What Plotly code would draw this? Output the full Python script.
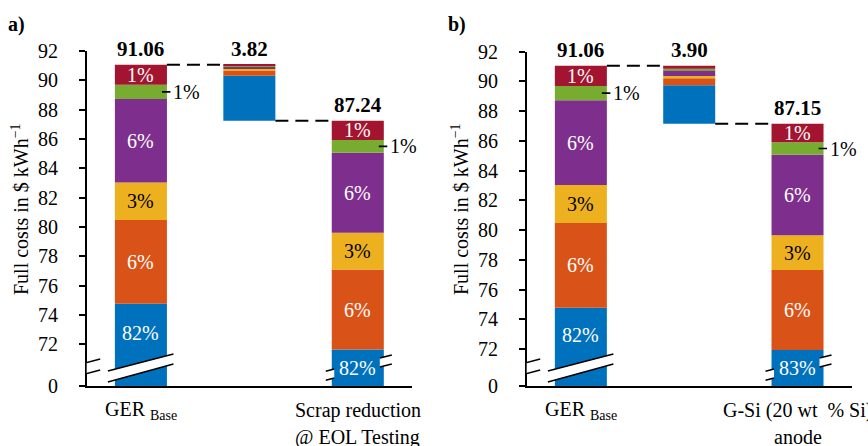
import plotly.graph_objects as go

# ---- data -----------------------------------------------------------------
# cost components (bottom to top) in $ per kWh
ger_base = [74.77, 5.70, 2.57, 5.69, 0.97, 1.36]
scrap_eol = [71.65, 5.45, 2.50, 5.46, 0.88, 1.30]
gsi_anode = [71.94, 5.38, 2.34, 5.40, 0.85, 1.24]
# cost reduction per component (floating middle bars)
delta_scrap = [3.07, 0.33, 0.14, 0.13, 0.09, 0.06]
delta_gsi = [2.59, 0.47, 0.15, 0.40, 0.10, 0.19]

tick_values = [72, 74, 76, 78, 80, 82, 84, 86, 88, 90, 92]
base_label = ["GER", "Base"]
scrap_label = ["Scrap reduction", "@ EOL Testing"]
gsi_label = ["G-Si (20 wt  % Si)", "anode"]
panel_tags = ["a)", "b)"]
y_title = "Full costs in $ kWh<sup>\u22121</sup>"

# ---- styling --------------------------------------------------------------
COLORS = ["#0072BD", "#D95319", "#EDB120", "#7E2F8E", "#77AC30", "#A2142F"]
TEXT_COLORS = ["white", "white", "black", "white", "white", "white"]
OUTSIDE = {4}           # thin segment labelled beside the bar
FONT = "Liberation Serif, Times New Roman, serif"
W, H = 868, 446
BAR_W = 0.48
BREAK_TOP = 70.0        # values below this are compressed into the axis break
YMAX = 92
FS = 20

panels = [
    dict(x="x", y="y", xa="xaxis", ya="yaxis", xpx=(86.7, 412.0), ypx=(51.0, 386.0),
         ymin=69.16, scen=scrap_eol, delta=delta_scrap, label=scrap_label,
         tag=panel_tags[0], tag_x=16, title_x=20),
    dict(x="x2", y="y2", xa="xaxis2", ya="yaxis2", xpx=(526.7, 851.7), ypx=(51.7, 386.0),
         ymin=69.51, scen=gsi_anode, delta=delta_gsi, label=gsi_label,
         tag=panel_tags[1], tag_x=457, title_x=460),
]


def disp(v, ymin):
    """Map a cost value onto the broken axis."""
    if v >= BREAK_TOP:
        return v
    return ymin + v * (BREAK_TOP - ymin) / BREAK_TOP


def cum(vals, start=0.0):
    out, s = [], start
    for v in vals:
        out.append(s)
        s += v
    return out


def tfont(color="black", size=FS):
    return dict(family=FONT, size=size, color=color)


def note(**kw):
    kw.setdefault("showarrow", False)
    kw.setdefault("xanchor", "center")
    kw.setdefault("yanchor", "middle")
    kw.setdefault("font", tfont())
    return kw


fig = go.Figure()
shapes, annotations = [], []

for p in panels:
    ymin = p["ymin"]
    ppx = (p["xpx"][1] - p["xpx"][0]) / 3.0
    ppy = (p["ypx"][1] - p["ypx"][0]) / (YMAX - ymin)
    dx = lambda px: px / ppx
    yb = lambda px: ymin + px / ppy   # pixels above the axis bottom -> axis units

    ger_tot = sum(ger_base)
    scen_tot = sum(p["scen"])
    delta_tot = sum(p["delta"])
    ger_b = cum(ger_base)
    scen_b = cum(p["scen"])
    delta_b = cum(p["delta"], scen_tot)

    for i, col in enumerate(COLORS):
        lows = [ger_b[i], delta_b[i], scen_b[i]]
        highs = [ger_b[i] + ger_base[i], delta_b[i] + p["delta"][i], scen_b[i] + p["scen"][i]]
        bases = [disp(v, ymin) for v in lows]
        tops = [disp(v, ymin) for v in highs]
        fig.add_trace(go.Bar(
            x=[0, 1, 2], y=[t - b for t, b in zip(tops, bases)], base=bases,
            width=BAR_W, marker=dict(color=col, line=dict(width=0)),
            xaxis=p["x"], yaxis=p["y"], showlegend=False, hoverinfo="skip"))

        # percentage labels on the two full bars
        for xi, vals, totals, lo, hi in ((0, ger_base, ger_tot, bases[0], tops[0]),
                                         (2, p["scen"], scen_tot, bases[2], tops[2])):
            txt = f"{round(100 * vals[i] / totals)}%"
            if i in OUTSIDE:
                ym = (lo + hi) / 2
                shapes.append(dict(type="line", xref=p["x"], yref=p["y"],
                                   x0=xi + BAR_W / 2 - dx(5), x1=xi + BAR_W / 2 + dx(3.5),
                                   y0=ym, y1=ym, line=dict(color="black", width=1.6),
                                   layer="above"))
                annotations.append(note(x=xi + BAR_W / 2 + dx(4), y=ym, xref=p["x"],
                                        yref=p["y"], text=txt, xanchor="left"))
                continue
            if i == 0 and xi == 0:
                # above the full-width break band
                lo = yb(23.5)
            annotations.append(note(x=xi, y=(lo + hi) / 2, xref=p["x"], yref=p["y"],
                                    text=txt, font=tfont(TEXT_COLORS[i])))

    # totals above the bars
    for xi, val, top in ((0, ger_tot, ger_tot), (1, delta_tot, scen_tot + delta_tot),
                         (2, scen_tot, scen_tot)):
        annotations.append(note(x=xi, y=top, xref=p["x"], yref=p["y"], yshift=16,
                                text=f"<b>{val:.2f}</b>", font=tfont(size=21)))

    # dashed connectors
    for x0, x1, yv in ((BAR_W / 2, 1 - BAR_W / 2, ger_tot),
                       (1 + BAR_W / 2, 2 - BAR_W / 2, scen_tot)):
        shapes.append(dict(type="line", xref=p["x"], yref=p["y"], x0=x0, x1=x1, y0=yv, y1=yv,
                           line=dict(color="black", width=2, dash="13px,7px"), layer="above"))

    def band(xl, xr, lo_l, lo_r, up_l, up_r):
        path = (f"M {xl},{yb(lo_l)} L {xr},{yb(lo_r)} L {xr},{yb(up_r)} "
                f"L {xl},{yb(up_l)} Z")
        shapes.append(dict(type="path", xref=p["x"], yref=p["y"], path=path,
                           fillcolor="white", line=dict(width=0), layer="above"))
        for a, b in ((lo_l, lo_r), (up_l, up_r)):
            shapes.append(dict(type="line", xref=p["x"], yref=p["y"], x0=xl, x1=xr,
                               y0=yb(a), y1=yb(b), line=dict(color="black", width=1.5),
                               layer="above"))

    # axis break on the y axis line
    band(-0.5 - dx(12.5), -0.5 + dx(13.5), 9, 16, 20, 27)
    # full break across the base bar
    band(-BAR_W / 2 - dx(7), BAR_W / 2 + dx(6.5), 4, 22, 15, 32)
    # edge notches on the scenario bar
    half = BAR_W / 2 * ppx
    low = lambda r: 7.3 + (r + half) * 0.245
    for r0, r1 in ((-half - 6, -half + 2.5), (half - 4, half + 8)):
        band(2 + dx(r0), 2 + dx(r1), low(r0), low(r1), low(r0) + 9, low(r1) + 9)

    # category labels under the axis
    ylab = 1 - 410 / H
    annotations.append(note(x=0, y=ylab, xref=p["x"], yref="paper",
                            text=f"{base_label[0]} <sub>{base_label[1]}</sub>"))
    annotations.append(note(x=2, y=ylab, xref=p["x"], yref="paper", text=p["label"][0]))
    annotations.append(note(x=2, y=1 - 437 / H, xref=p["x"], yref="paper",
                            text=p["label"][1]))

    # panel tag and axis title
    annotations.append(note(x=p["tag_x"] / W, y=1 - 24 / H, xref="paper", yref="paper",
                            text=f"<b>{p['tag']}</b>"))
    annotations.append(note(x=p["title_x"] / W, y=1 - 209 / H, xref="paper", yref="paper",
                            text=y_title, textangle=-90))

    fig.layout[p["xa"]] = dict(
        domain=[p["xpx"][0] / W, p["xpx"][1] / W], range=[-0.5, 2.5], anchor=p["y"],
        showline=True, linecolor="black", linewidth=1.5, showticklabels=False,
        ticks="", showgrid=False, zeroline=False, fixedrange=True, automargin=False)
    fig.layout[p["ya"]] = dict(
        domain=[1 - p["ypx"][1] / H, 1 - p["ypx"][0] / H], range=[ymin, YMAX], anchor=p["x"],
        tickvals=[ymin] + tick_values, ticktext=["0"] + [str(t) for t in tick_values],
        ticks="outside", ticklen=6, tickwidth=1.5, tickcolor="black",
        showline=True, linecolor="black", linewidth=1.5, showgrid=False, zeroline=False,
        ticklabelstandoff=17, tickfont=tfont(), fixedrange=True, automargin=False)

fig.update_layout(
    template="none", width=W, height=H, margin=dict(l=0, r=0, t=0, b=0, pad=0),
    paper_bgcolor="white", plot_bgcolor="white", barmode="overlay",
    shapes=shapes, annotations=annotations, font=tfont())

fig.write_html("out.html")
